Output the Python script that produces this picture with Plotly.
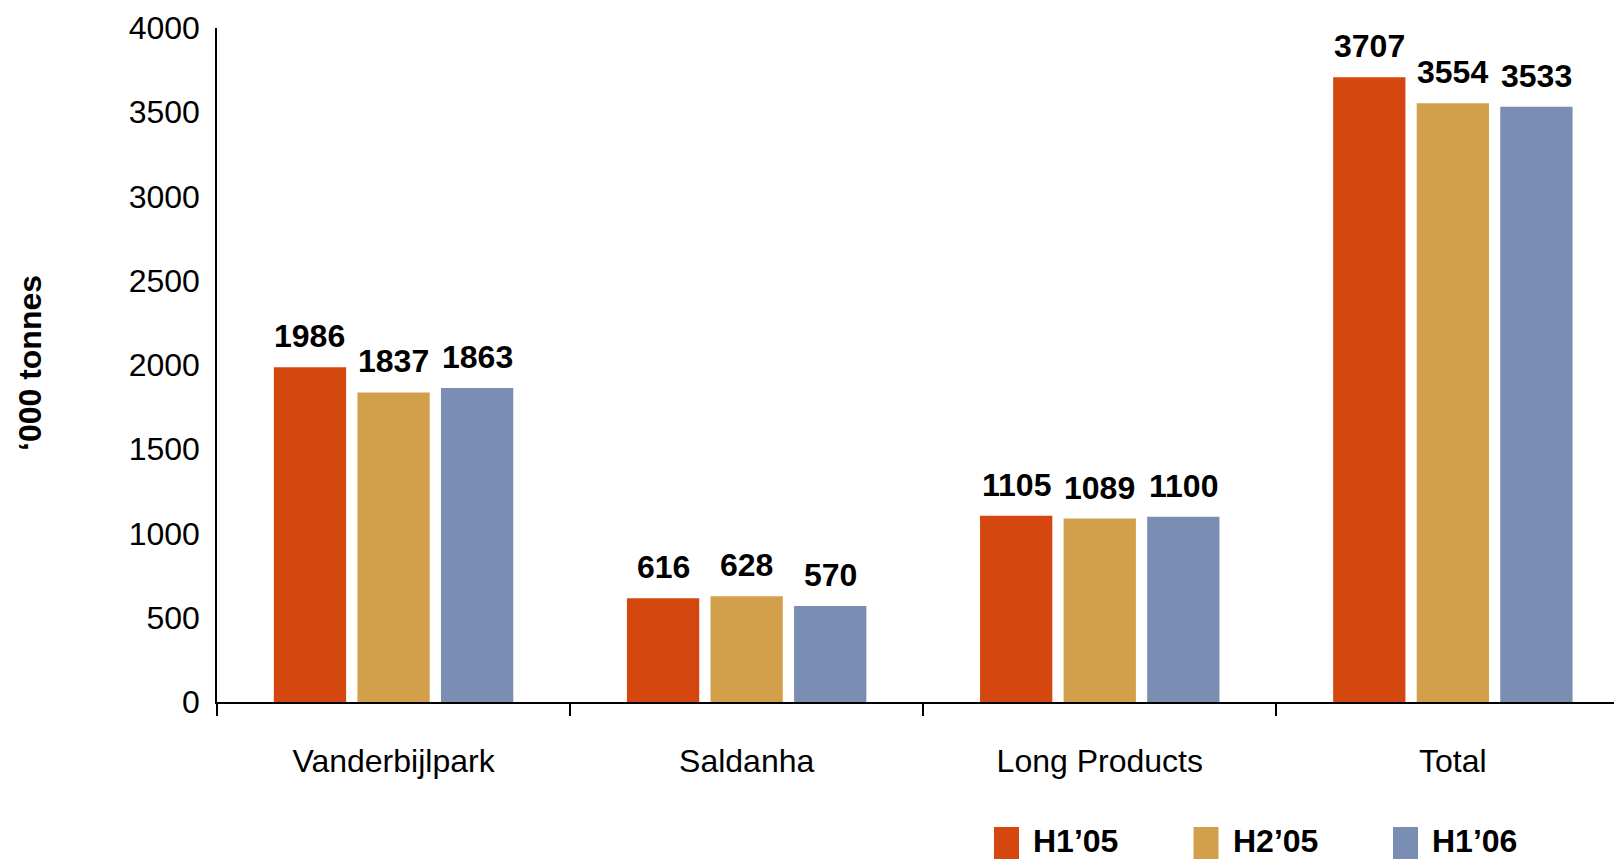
import plotly.graph_objects as go

# Production by operation, '000 tonnes
categories = ["Vanderbijlpark", "Saldanha", "Long Products", "Total"]
series_names = ["H1\u201905", "H2\u201905", "H1\u201906"]
h1_05 = [1986, 616, 1105, 3707]
h2_05 = [1837, 628, 1089, 3554]
h1_06 = [1863, 570, 1100, 3533]
y_ticks = [0, 500, 1000, 1500, 2000, 2500, 3000, 3500, 4000]

series_values = [h1_05, h2_05, h1_06]
colors = ["#D4470F", "#D2A04A", "#7A8DB3"]

FONT = "Liberation Sans, Arial, sans-serif"
FS = 32

W, H = 1614, 859
L, T, B = 217, 28, 157
plot_w = W - L
plot_h = H - T - B
cat_px = 353.1
BARGAP = 0.29
BARGROUPGAP = 0.135

fig = go.Figure()
for name, vals, col in zip(series_names, series_values, colors):
    fig.add_trace(go.Bar(
        x=categories, y=vals, name=name,
        marker=dict(color=col, line=dict(width=0)),
        showlegend=False,
    ))

# value labels above each bar
slot = (1 - BARGAP) / len(series_names)
annotations = []
for k, vals in enumerate(series_values):
    off = (k - (len(series_names) - 1) / 2) * slot
    for i, v in enumerate(vals):
        annotations.append(dict(
            x=i + off, y=v, xref="x", yref="y",
            text=f"<b>{v}</b>", showarrow=False,
            yanchor="bottom", xanchor="center", yshift=11,
            font=dict(family=FONT, size=FS, color="#000000"),
        ))

# y-axis title
annotations.append(dict(
    x=(30 - L) / plot_w, y=(H - B - 363) / plot_h, xref="paper", yref="paper",
    text="<b>\u2018000 tonnes</b>", textangle=-90, showarrow=False,
    xanchor="center", yanchor="middle",
    font=dict(family=FONT, size=FS, color="#000000"),
))

# legend drawn as swatches plus labels along the bottom
shapes = []
leg_x0 = 994
leg_step = 199.5
sq_w = 25
sq_top, sq_bot = 827, 859
for k, (name, col) in enumerate(zip(series_names, colors)):
    x0 = leg_x0 + k * leg_step
    shapes.append(dict(
        type="rect", xref="paper", yref="paper",
        x0=(x0 - L) / plot_w, x1=(x0 + sq_w - L) / plot_w,
        y0=(H - B - sq_bot) / plot_h, y1=(H - B - sq_top) / plot_h,
        fillcolor=col, line=dict(width=0), layer="above",
    ))
    annotations.append(dict(
        x=(x0 + 37 - L) / plot_w, y=(H - B - 841) / plot_h,
        xref="paper", yref="paper", text=f"<b>{name}</b>", showarrow=False,
        xanchor="left", yanchor="middle",
        font=dict(family=FONT, size=FS, color="#000000"),
    ))

x_end = -0.5 + plot_w / cat_px

fig.update_layout(
    width=W, height=H,
    margin=dict(l=L, r=0, t=T, b=B, pad=0),
    paper_bgcolor="#FFFFFF", plot_bgcolor="#FFFFFF",
    barmode="group", bargap=BARGAP, bargroupgap=BARGROUPGAP,
    font=dict(family=FONT, size=FS, color="#000000"),
    annotations=annotations, shapes=shapes,
    showlegend=False,
    xaxis=dict(
        type="category", range=[-0.5, x_end],
        tickson="boundaries", ticks="outside", ticklen=12, tickwidth=1.5,
        tickcolor="#000000", showline=True, linecolor="#000000", linewidth=1.5,
        showgrid=False, zeroline=False, ticklabelstandoff=30,
        tickfont=dict(family=FONT, size=FS, color="#000000"),
    ),
    yaxis=dict(
        range=[0, 4000], tickvals=y_ticks, ticks="",
        showline=True, linecolor="#000000", linewidth=1.5,
        showgrid=False, zeroline=False, ticklabelstandoff=9,
        tickfont=dict(family=FONT, size=FS, color="#000000"),
    ),
)

fig.write_html("out.html")
